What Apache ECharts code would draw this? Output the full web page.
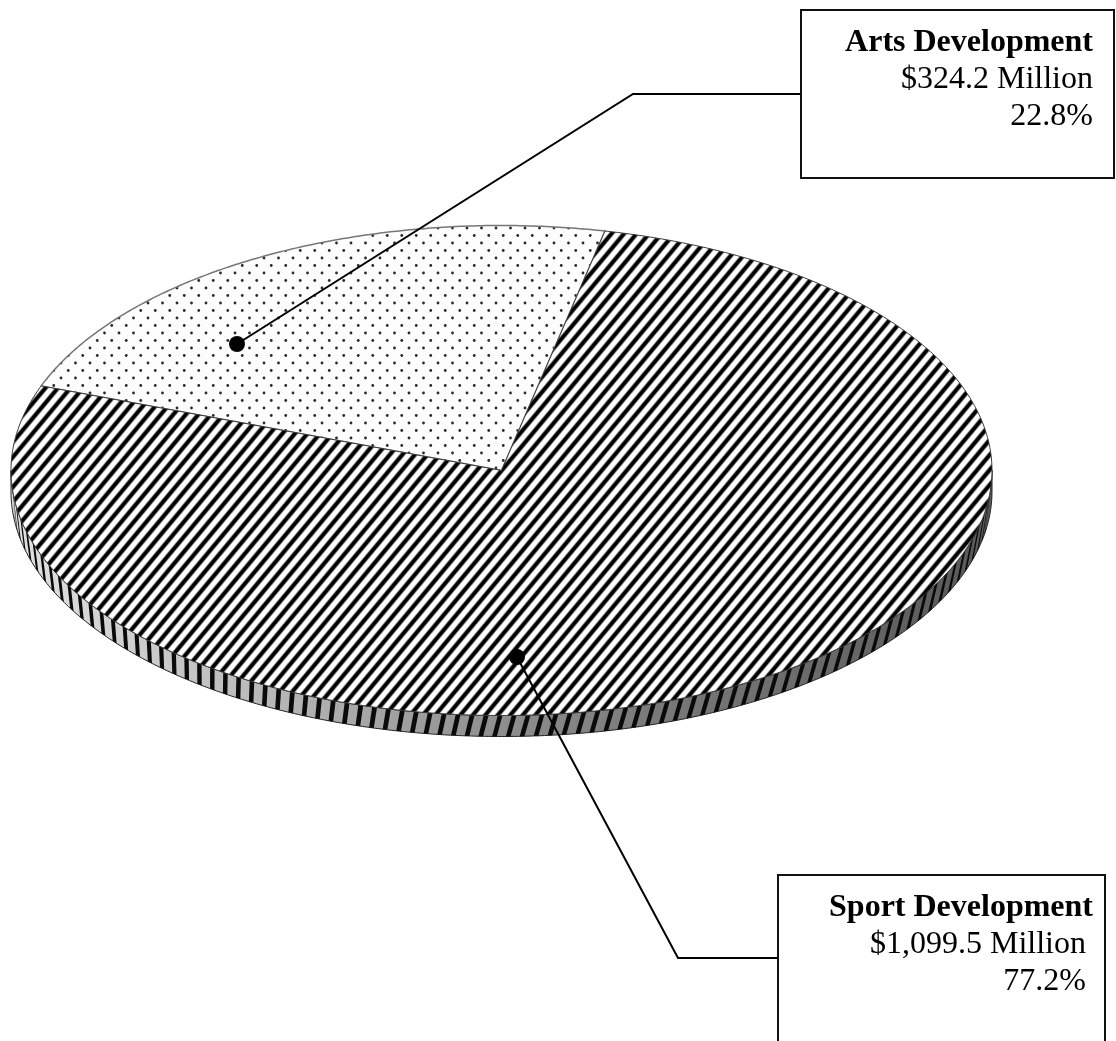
<!DOCTYPE html>
<html>
<head>
<meta charset="utf-8">
<style>html,body{margin:0;padding:0;background:#fff}#chart{width:1116px;height:1041px}</style>
<script src="https://cdn.jsdelivr.net/npm/echarts@6/dist/echarts.min.js"></script>
</head>
<body>
<div id="chart"></div>
<script>
// Funding by program, in millions of dollars
const programs = ['Arts Development', 'Sport Development'];
const fundingMillions = [324.2, 1099.5];
const shareLabels = ['22.8%', '77.2%'];

// Disc geometry of the tilted pie
const disc = { cx: 501.5, cy: 470.5, rx: 490.5, ry: 245, depth: 21 };
// First slice begins here, degrees clockwise from the far edge of the disc
const startDeg = -69.8;

const rad = Math.PI / 180;
const total = fundingMillions.reduce((a, b) => a + b, 0);

function rimPoint(theta, dy) {
  return [disc.cx + disc.rx * Math.sin(theta), disc.cy - disc.ry * Math.cos(theta) + (dy || 0)];
}
function arcPoints(a0, a1, dy) {
  const n = Math.max(8, Math.ceil(Math.abs(a1 - a0) / (0.5 * rad)));
  const pts = [];
  for (let i = 0; i <= n; i++) pts.push(rimPoint(a0 + (a1 - a0) * i / n, dy));
  return pts;
}

// Seamless tile of soft diagonal stripes
function stripeTile() {
  const px = 12.5, py = 15, w = 75, h = 75;
  const c = document.createElement('canvas');
  c.width = w; c.height = h;
  const g = c.getContext('2d');
  const img = g.createImageData(w, h);
  for (let y = 0; y < h; y++) for (let x = 0; x < w; x++) {
    let f = (x + 0.5) / px + (y + 0.5) / py;
    f = f - Math.floor(f);
    const d = Math.abs(f - 0.5);
    let t = (d - 0.10) / 0.24;
    t = Math.min(1, Math.max(0, t));
    const v = Math.round(255 * t * t * (3 - 2 * t));
    const i = (y * w + x) * 4;
    img.data[i] = img.data[i + 1] = img.data[i + 2] = v;
    img.data[i + 3] = 255;
  }
  g.putImageData(img, 0, 0);
  return c;
}
// Seamless tile of staggered dots
function dotTile() {
  const pitchX = 14.5, pitchY = 15;
  const c = document.createElement('canvas');
  c.width = 29; c.height = 75;
  const g = c.getContext('2d');
  g.fillStyle = '#fdfdfd';
  g.fillRect(0, 0, c.width, c.height);
  g.fillStyle = '#2a2a2a';
  for (let i = 0; i < 2; i++) for (let j = 0; j < 5; j++) {
    [[0, 0], [0.5, 0.5]].forEach(o => {
      g.beginPath();
      g.arc((i + o[0]) * pitchX + 3, (j + o[1]) * pitchY + 3, 1.4, 0, 7);
      g.fill();
    });
  }
  return c;
}
const stripeFill = { image: stripeTile(), repeat: 'repeat' };
const dotFill = { image: dotTile(), repeat: 'repeat' };

// Side wall lean of the hatch lines, by horizontal position along the rim
function wallLean(x) {
  const stops = [[0, 4], [100, 2], [260, -1], [520, -6], [840, -7], [1000, -6]];
  for (let i = 1; i < stops.length; i++) {
    if (x <= stops[i][0]) {
      const a = stops[i - 1], b = stops[i];
      return a[1] + (b[1] - a[1]) * (x - a[0]) / (b[0] - a[0]);
    }
  }
  return -6;
}
function wallChildren(a0, a1) {
  const top = arcPoints(a0, a1, 0);
  const bottom = arcPoints(a1, a0, disc.depth);
  const kids = [{
    type: 'polygon',
    shape: { points: top.concat(bottom) },
    style: {
      fill: {
        type: 'linear', global: true, x: 0, y: 0, x2: 1116, y2: 0,
        colorStops: [
          { offset: 0, color: '#e4e4e4' }, { offset: 0.1, color: '#d2d2d2' },
          { offset: 0.25, color: '#b6b6b6' }, { offset: 0.46, color: '#8c8c8c' },
          { offset: 0.6, color: '#787878' }, { offset: 0.76, color: '#676767' },
          { offset: 0.9, color: '#565656' }, { offset: 1, color: '#4a4a4a' }
        ]
      },
      stroke: '#222', lineWidth: 1
    }
  }];
  // Hatch lines spaced evenly along the front rim
  const spacing = 14, width = 4.8;
  const dir = Math.sign(a1 - a0);
  const step = (t, s) => s / Math.hypot(disc.rx * Math.cos(t), disc.ry * Math.sin(t));
  const foot = (p, lean) => {
    const s = Math.max(-1, Math.min(1, (p[0] + lean - disc.cx) / disc.rx));
    return [disc.cx + disc.rx * s, disc.cy + disc.ry * Math.sqrt(1 - s * s) + disc.depth];
  };
  let t = a0;
  while ((a1 - t) * dir > 0) {
    const t2 = t + dir * step(t, width);
    if ((a1 - t2) * dir > 0) {
      const p0 = rimPoint(t, 0), p1 = rimPoint(t2, 0);
      kids.push({
        type: 'polygon',
        shape: { points: [p0, p1, foot(p1, wallLean(p1[0])), foot(p0, wallLean(p0[0]))] },
        style: { fill: '#0a0a0a' }
      });
    }
    t += dir * step(t, spacing);
  }
  return kids;
}

function renderSlice(params, api) {
  const i = params.dataIndex;
  let before = 0;
  for (let k = 0; k < i; k++) before += fundingMillions[k];
  const start = startDeg + before / total * 360;
  const sweep = api.value(0) / total * 360;
  const a0 = start * rad, a1 = (start + sweep) * rad;
  const face = {
    type: 'polygon',
    shape: { points: [[disc.cx, disc.cy]].concat(arcPoints(a0, a1, 0)) },
    style: i === 1
      ? { fill: stripeFill, stroke: '#3a3a3a', lineWidth: 1 }
      : { fill: dotFill, stroke: '#777', lineWidth: 1.5 }
  };
  const kids = i === 1 ? wallChildren(Math.PI / 2, 3 * Math.PI / 2).concat(face) : [face];
  return { type: 'group', children: kids };
}

// Callout boxes with their leader lines
const calloutFont = '"Liberation Serif","Times New Roman",serif';
function money(v) {
  return '$' + v.toLocaleString('en-US', { minimumFractionDigits: 1, maximumFractionDigits: 1 }) + ' Million';
}
const callouts = [
  { box: [801, 10, 313, 168], path: [[237, 344], [633, 94], [801, 94]], right: [1093, 1093], base: 27 },
  { box: [778, 875, 327, 190], path: [[517, 657], [678, 958], [778, 958]], right: [1093, 1086], base: 892 }
];
const graphics = [];
callouts.forEach((c, i) => {
  graphics.push({
    type: 'polyline', z: 10, shape: { points: c.path },
    style: { stroke: '#000', lineWidth: 2, fill: null }
  });
  graphics.push({
    type: 'circle', z: 11, shape: { cx: c.path[0][0], cy: c.path[0][1], r: 8 },
    style: { fill: '#000' }
  });
  graphics.push({
    type: 'rect', z: 12, shape: { x: c.box[0], y: c.box[1], width: c.box[2], height: c.box[3] },
    style: { fill: '#fff', stroke: '#111', lineWidth: 2 }
  });
  [
    [programs[i], 'bold', c.right[0], 0],
    [money(fundingMillions[i]), 'normal', c.right[1], 37],
    [shareLabels[i], 'normal', c.right[1], 74]
  ].forEach(l => {
    graphics.push({
      type: 'text', z: 13, x: l[2], y: c.base + l[3],
      style: {
        text: l[0], align: 'right', verticalAlign: 'top',
        font: l[1] + ' 32px ' + calloutFont, fill: '#000'
      }
    });
  });
});

const chart = echarts.init(document.getElementById('chart'), null, { renderer: 'canvas' });
chart.setOption({
  animation: false,
  backgroundColor: '#fff',
  graphic: graphics,
  series: [{
    type: 'custom',
    coordinateSystem: 'none',
    renderItem: renderSlice,
    data: fundingMillions.map((v, i) => ({ name: programs[i], value: [v] }))
  }]
});
</script>
</body>
</html>
